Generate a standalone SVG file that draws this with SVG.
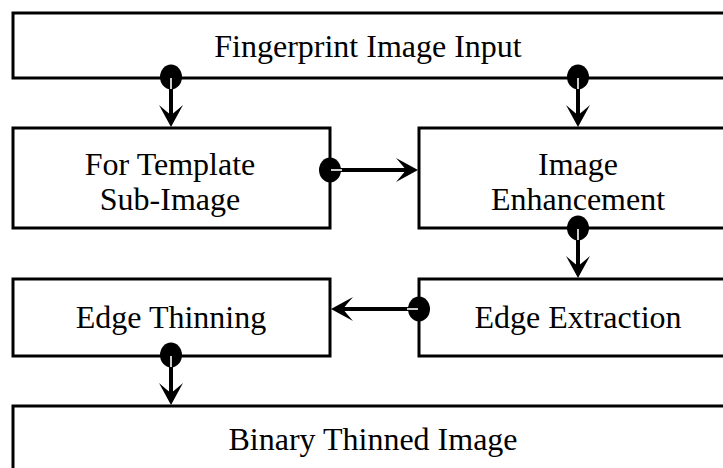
<svg xmlns="http://www.w3.org/2000/svg" xmlns:xlink="http://www.w3.org/1999/xlink" width="723" height="468" viewBox="0 0 723 468">
<style>
.box{fill:#fff;stroke:#000;stroke-width:3}
.lbl{font-family:"Liberation Serif","Times New Roman",serif;font-size:32px;fill:#000;text-anchor:middle}
.shaft{stroke:#000;stroke-width:4;fill:none}
.core{stroke:#fff;stroke-width:1.6;fill:none}
.dot{fill:#000}
</style>
<defs>
<path id="ah" d="M0,0 L-22,-12 Q-15,-4 -12,0 Q-15,4 -22,12 Z" fill="#000"/>
</defs>
<rect width="723" height="468" fill="#fff"/>
<g id="node-input"><rect class="box" x="13" y="13" width="740" height="65"/><text class="lbl" x="368" y="57">Fingerprint Image Input</text></g>
<g id="node-template"><rect class="box" x="13" y="128" width="317" height="100"/><text class="lbl" x="170" y="175">For Template</text><text class="lbl" x="170" y="210">Sub-Image</text></g>
<g id="node-enhance"><rect class="box" x="419" y="128" width="340" height="100"/><text class="lbl" x="578" y="175">Image</text><text class="lbl" x="578" y="210">Enhancement</text></g>
<g id="node-thinning"><rect class="box" x="13" y="279" width="317" height="77"/><text class="lbl" x="171" y="328">Edge Thinning</text></g>
<g id="node-extract"><rect class="box" x="419" y="279" width="340" height="77"/><text class="lbl" x="578" y="328">Edge Extraction</text></g>
<g id="node-binary"><rect class="box" x="13" y="406" width="740" height="80"/><text class="lbl" x="373" y="450">Binary Thinned Image</text></g>
<g id="connectors">
<ellipse class="dot" cx="171" cy="77" rx="11" ry="12.5"/><line class="shaft" x1="171" y1="77" x2="171" y2="117"/><line class="core" x1="171" y1="78" x2="171" y2="89"/><use xlink:href="#ah" transform="translate(171,127) rotate(90)"/>
<ellipse class="dot" cx="578" cy="77" rx="11" ry="12.5"/><line class="shaft" x1="578" y1="77" x2="578" y2="117"/><line class="core" x1="578" y1="78" x2="578" y2="89"/><use xlink:href="#ah" transform="translate(578,127) rotate(90)"/>
<ellipse class="dot" cx="330" cy="170" rx="11" ry="12.5"/><line class="shaft" x1="330" y1="170" x2="408" y2="170"/><line class="core" x1="331" y1="170" x2="342" y2="170"/><use xlink:href="#ah" transform="translate(418,170)"/>
<ellipse class="dot" cx="578" cy="228" rx="11" ry="12.5"/><line class="shaft" x1="578" y1="228" x2="578" y2="268"/><line class="core" x1="578" y1="229" x2="578" y2="240"/><use xlink:href="#ah" transform="translate(578,278) rotate(90)"/>
<ellipse class="dot" cx="419" cy="309" rx="11" ry="12.5"/><line class="shaft" x1="419" y1="309" x2="341" y2="309"/><line class="core" x1="418" y1="309" x2="407" y2="309"/><use xlink:href="#ah" transform="translate(331,309) rotate(180)"/>
<ellipse class="dot" cx="171" cy="355" rx="11" ry="12.5"/><line class="shaft" x1="171" y1="355" x2="171" y2="395"/><line class="core" x1="171" y1="356" x2="171" y2="367"/><use xlink:href="#ah" transform="translate(171,405) rotate(90)"/>
</g>
</svg>
